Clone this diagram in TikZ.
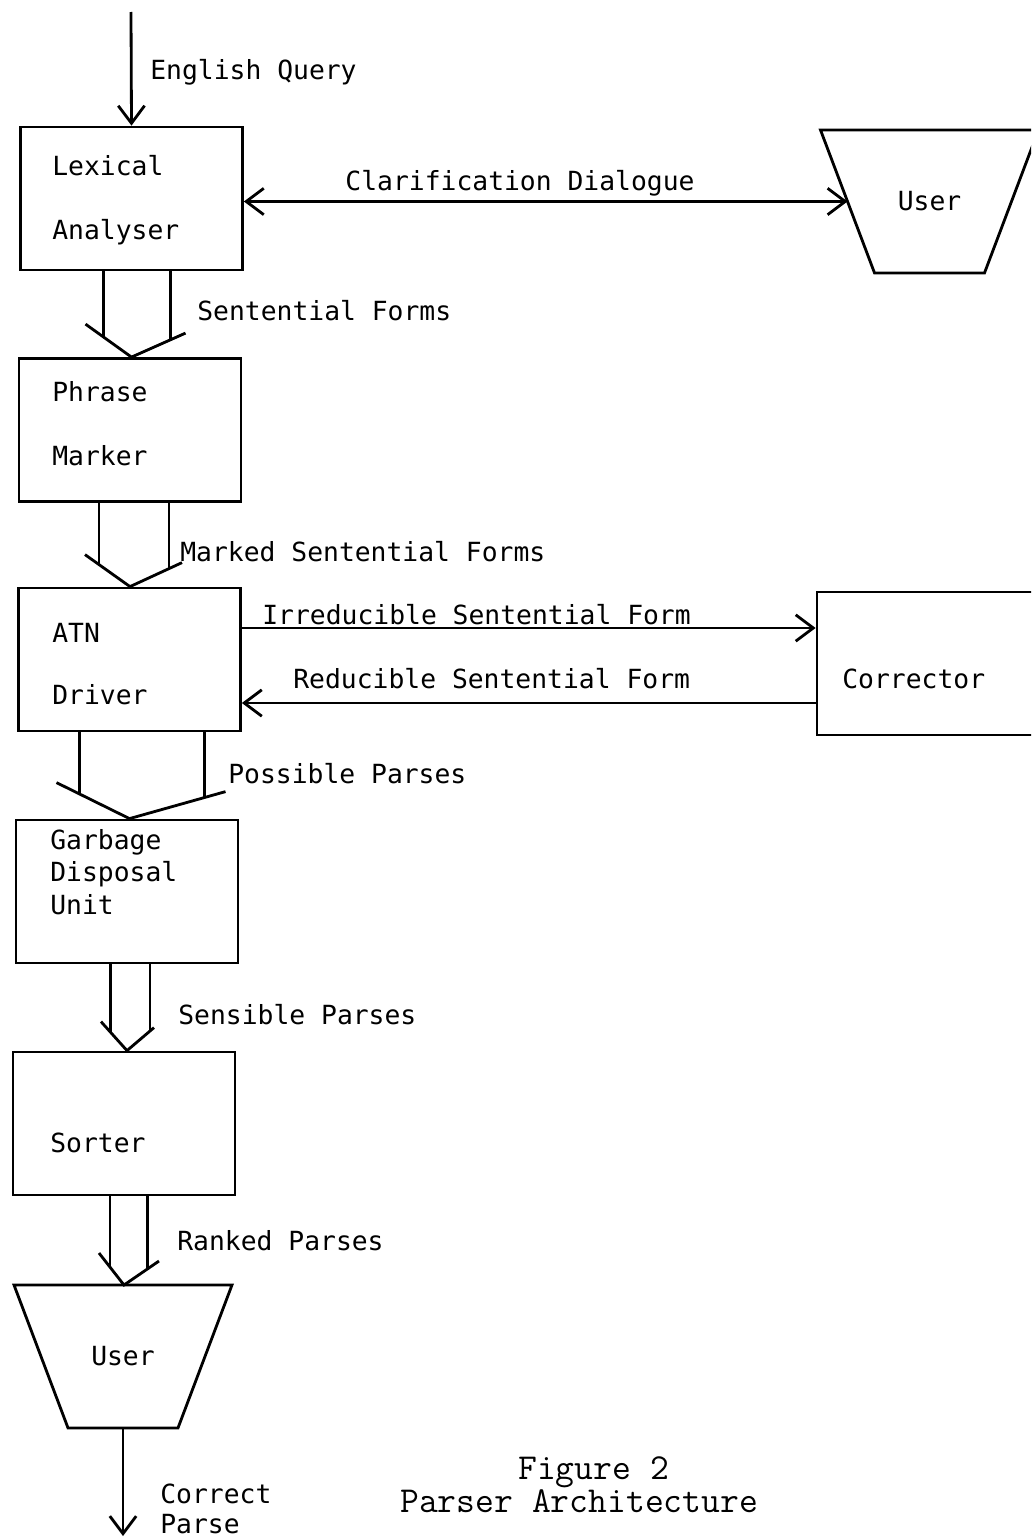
\documentclass[tikz,border=0pt]{standalone}
\usepackage{fontspec}
\usepackage{tikz}
\usetikzlibrary{positioning, arrows.meta, calc, shapes.geometric}
\newfontfamily\lblfont{DejaVu Sans Mono}
% broad arrow: source, target, left barb, right barb, shaft positions on barbs
\newcommand{\fatarrow}[6]{%
  \coordinate (fa) at (#2.north -| #1.south);
  \coordinate (fl) at ($(fa)+(#3)$);
  \coordinate (fr) at ($(fa)+(#4)$);
  \coordinate (pl) at ($(fa)!#5!(fl)$);
  \coordinate (pr) at ($(fa)!#6!(fr)$);
  \draw[wire] (fl) -- (fa) -- (fr);
  \draw[wire] (pl |- #1.south) -- (pl);
  \draw[wire] (pr |- #1.south) -- (pr);}
% user funnel drawn on the frame of a node
\newcommand{\funnel}[1]{%
  \draw[wire] (#1.north west) -- (#1.north east)
    -- ($(#1.south east)+(-54,0)$) -- ($(#1.south west)+(54,0)$) -- cycle;}

\begin{document}
\begin{tikzpicture}[x=0.02cm, y=-0.02cm,
    wire/.style={line width=1.6pt},
    flow/.style={wire, -{Straight Barb[length=10pt,width=15pt]}},
    twoway/.style={wire, {Straight Barb[length=10pt,width=15pt]}-{Straight Barb[length=10pt,width=15pt]}},
    stage/.style={draw, wire, rectangle, minimum width=4.44cm, minimum height=2.86cm, inner sep=0pt},
    usr/.style={rectangle, minimum width=4.36cm, minimum height=2.86cm, inner sep=0pt, outer sep=0pt,
      font=\lblfont\fontsize{15}{18.4}\selectfont},
    lbl/.style={font=\lblfont\fontsize{15}{18.4}\selectfont, inner sep=0pt, anchor=base west, align=left},
    figlbl/.style={font=\ttfamily\fontsize{20.8}{24}\selectfont, inner sep=0pt, anchor=base west}]
  \clip (0,0) rectangle (1031,1538);
  \fill[white] (0,0) rectangle (1031,1538);
  % Boxes
  \node[stage] (lex) at (131.5,198.5) {};
  \node[stage] (phr) at (130,430) {};
  \node[stage] (atn) at (129.5,659.5) {};
  \node[stage] (cor) at (928,663.5) {};
  \node[stage] (gdu) at (127,891.5) {};
  \node[stage] (srt) at (124,1123.5) {};
  \node[usr] (usrA) at (929.5,201.5) {User};
  \funnel{usrA}
  \node[usr] (usrB) at (123,1356.5) {User};
  \funnel{usrB}
  % Box texts (base = last line)
  \node[lbl] (lexT) at (52,239) {Lexical\\[17.5pt]Analyser};
  \node[lbl] (phrT) at (52,465) {Phrase\\[17.5pt]Marker};
  \node[lbl] (atnT) at (52,704) {ATN\\[16.8pt]Driver};
  \node[lbl] (gduT) at (50,914) {Garbage\\Disposal\\Unit};
  \node[lbl] (srtT) at (50,1152) {Sorter};
  \node[lbl] (corT) at (842,688) {Corrector};
  % Query in
  \coordinate (query) at (131,12);
  \draw[flow] (query) -- (lex.north);
  \node[lbl] (queryT) at (150,79) {English Query};
  % Dialogue with the user
  \coordinate (usrAin) at ($(usrA.west)+(27,0)$);
  \draw[twoway] (lex.east |- usrAin) -- (usrAin);
  \node[lbl, anchor=base] (clarT) at (520,190) {Clarification Dialogue};
  % Corrector loop
  \coordinate (irrS) at ($(atn.east)+(0,-31.5)$);
  \draw[flow] (irrS) -- (irrS -| cor.west);
  \node[lbl] (irrT) at (262,624) {Irreducible Sentential Form};
  \coordinate (redS) at ($(cor.west)+(0,39.5)$);
  \draw[flow] (redS) -- (redS -| atn.east);
  \node[lbl] (redT) at (293,688) {Reducible Sentential Form};
  % Broad arrows down the chain
  \fatarrow{lex}{phr}{-46,-33}{54,-24}{0.61}{0.72}
  \node[lbl] (sfT) at (197,320) {Sentential Forms};
  \fatarrow{phr}{atn}{-45,-32}{52,-24}{0.69}{0.75}
  \node[lbl] (msfT) at (180,561) {Marked Sentential Forms};
  \fatarrow{atn}{gdu}{-73,-36}{96,-27}{0.68}{0.78}
  \node[lbl] (ppT) at (228,783) {Possible Parses};
  \fatarrow{gdu}{srt}{-26,-29}{27,-23}{0.62}{0.85}
  \node[lbl] (spT) at (178,1024) {Sensible Parses};
  \fatarrow{srt}{usrB}{-25,-32}{35,-24}{0.56}{0.66}
  \node[lbl] (rpT) at (177,1250) {Ranked Parses};
  % Result out
  \coordinate (parse) at (123,1536);
  \draw[flow] (usrB.south) -- (usrB.south |- parse);
  \node[lbl] (parseT) at (160,1533) {Correct\\[-1.4pt]Parse};
  % Caption
  \node[figlbl] (figA) at (518,1479) {Figure 2};
  \node[figlbl] (figB) at (400,1512) {Parser Architecture};
\end{tikzpicture}
\end{document}
